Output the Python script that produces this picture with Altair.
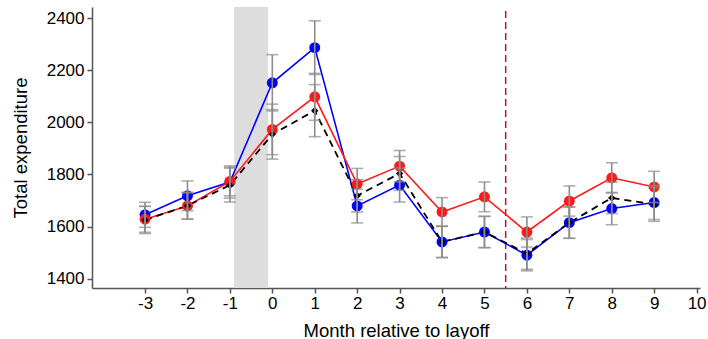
import altair as alt
import pandas as pd

# Months relative to layoff
months = [-3, -2, -1, 0, 1, 2, 3, 4, 5, 6, 7, 8, 9]

# Mean total expenditure by group
blue_vals = [1645, 1718, 1771, 2152, 2287, 1679, 1759, 1541, 1579, 1490, 1615, 1669, 1692]
red_vals = [1628, 1679, 1773, 1973, 2098, 1763, 1832, 1656, 1714, 1579, 1698, 1787, 1752]
black_vals = [1625, 1680, 1759, 1954, 2045, 1718, 1804, 1541, 1579, 1496, 1615, 1710, 1685]

# Half-widths of the confidence intervals
blue_ci = [48, 57, 62, 108, 103, 65, 65, 60, 60, 60, 60, 62, 65]
red_ci = [50, 50, 55, 97, 90, 60, 60, 55, 57, 58, 58, 58, 60]
black_ci = [52, 52, 65, 95, 100, 62, 65, 60, 60, 60, 60, 60, 65]

series_names = ["blue", "red", "black"]
series_colors = ["#0000FF", "#FF1A1A", "#000000"]

x_ticks = list(range(-3, 11))
y_ticks = [1400, 1600, 1800, 2000, 2200, 2400]

rows = []
for name, vals, ci in [("blue", blue_vals, blue_ci),
                       ("red", red_vals, red_ci),
                       ("black", black_vals, black_ci)]:
    for m, v, c in zip(months, vals, ci):
        rows.append({"month": m, "value": v, "lo": v - c, "hi": v + c, "series": name})
df = pd.DataFrame(rows)

W, H = 608, 281
FONT = "Liberation Sans"
x_scale = alt.Scale(domain=[-4.25, 10.08], nice=False, zero=False)
y_scale = alt.Scale(domain=[1364, 2443], nice=False, zero=False)
color_scale = alt.Scale(domain=series_names, range=series_colors)

axis_style = dict(
    grid=False,
    domainColor="#555555", domainWidth=1.5,
    tickColor="#555555", tickWidth=1.5, tickSize=5,
    labelFont=FONT, labelFontSize=17, labelColor="#000000",
    titleFont=FONT, titleFontSize=18.5, titleColor="#000000", titleFontWeight="normal",
)

# Plain hyphen for negative month labels
x_axis = alt.Axis(values=x_ticks, title="Month relative to layoff",
                  labelExpr="'' + datum.value",
                  titlePadding=10, labelPadding=2, **axis_style)
y_axis = alt.Axis(values=y_ticks, title="Total expenditure", format="d",
                  titlePadding=16, labelPadding=3, **axis_style)

base = alt.Chart(df)

# Axes carried by an invisible layer of the data
axes_layer = base.mark_point(opacity=0).encode(
    x=alt.X("month:Q", scale=x_scale, axis=x_axis),
    y=alt.Y("value:Q", scale=y_scale, axis=y_axis),
)

# Shaded layoff window
band = alt.Chart(pd.DataFrame({"x0": [-0.9], "x1": [-0.1]})).mark_rect(
    color="#DDDDDD"
).encode(
    x="x0:Q", x2="x1:Q",
    y=alt.value(0), y2=alt.value(H),
)

# Vertical reference line between months 5 and 6
vline = alt.Chart(pd.DataFrame({"x": [5.5]})).mark_rule(
    color="#C0103F", strokeDash=[7, 4], strokeWidth=1.5
).encode(
    x="x:Q", y=alt.value(4), y2=alt.value(H),
)

solid_lines = base.transform_filter(alt.datum.series != "black").mark_line(
    strokeWidth=1.6
).encode(
    x="month:Q", y="value:Q",
    color=alt.Color("series:N", scale=color_scale, legend=None),
)

dashed_line = base.transform_filter(alt.datum.series == "black").mark_line(
    strokeWidth=1.8, strokeDash=[7, 5], color="#000000"
).encode(x="month:Q", y="value:Q")

dots = base.transform_filter(alt.datum.series != "black").mark_point(
    shape="circle", filled=True, size=120, opacity=1
).encode(
    x="month:Q", y="value:Q",
    color=alt.Color("series:N", scale=color_scale, legend=None),
)

diamonds = base.transform_filter(alt.datum.series == "black").mark_point(
    shape="diamond", filled=True, size=55, opacity=1, color="#000000"
).encode(x="month:Q", y="value:Q")

err_color = "#8C8C8C"
err_rules = base.mark_rule(color=err_color, strokeWidth=1.6).encode(
    x="month:Q", y="lo:Q", y2="hi:Q"
)
cap_lo = base.mark_tick(color=err_color, orient="horizontal", size=12, thickness=1.6).encode(
    x="month:Q", y="lo:Q"
)
cap_hi = base.mark_tick(color=err_color, orient="horizontal", size=12, thickness=1.6).encode(
    x="month:Q", y="hi:Q"
)

chart = alt.layer(
    axes_layer, band, vline, solid_lines, dashed_line, dots, diamonds,
    err_rules, cap_lo, cap_hi
).resolve_scale(
    color="independent"
).properties(
    width=W, height=H,
    autosize=alt.AutoSizeParams(type="none"),
    padding={"left": 92, "top": 7, "right": 8, "bottom": 51},
    background="white",
).configure_view(
    stroke=None
)

chart.save("out.html", embed_options={"renderer": "svg", "actions": False})
